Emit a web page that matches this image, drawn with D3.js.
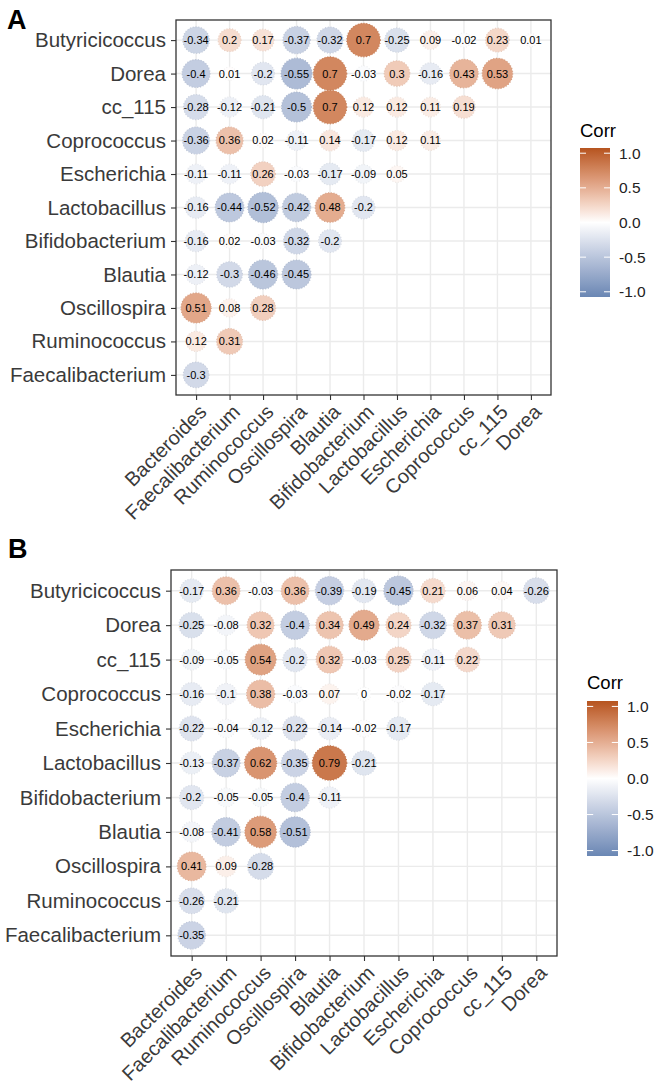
<!DOCTYPE html>
<html>
<head>
<meta charset="utf-8">
<script src="https://cdn.jsdelivr.net/npm/d3@7"></script>
<style>
  html, body { margin: 0; padding: 0; background: #ffffff; }
  svg { display: block; font-family: "Liberation Sans", Arial, sans-serif; }
</style>
</head>
<body>
<svg id="chart" width="657" height="1092"></svg>
<script>
// ---------------- DATA ----------------
const xCategories = ["Bacteroides","Faecalibacterium","Ruminococcus","Oscillospira","Blautia",
  "Bifidobacterium","Lactobacillus","Escherichia","Coprococcus","cc_115","Dorea"];
// rows from top to bottom
const yCategories = ["Butyricicoccus","Dorea","cc_115","Coprococcus","Escherichia","Lactobacillus",
  "Bifidobacterium","Blautia","Oscillospira","Ruminococcus","Faecalibacterium"];

// Panel A: each row lists its correlations with xCategories, left to right
const corrA = [
  [-0.34, 0.2, 0.17, -0.37, -0.32, 0.7, -0.25, 0.09, -0.02, 0.23, 0.01],
  [-0.4, 0.01, -0.2, -0.55, 0.7, -0.03, 0.3, -0.16, 0.43, 0.53],
  [-0.28, -0.12, -0.21, -0.5, 0.7, 0.12, 0.12, 0.11, 0.19],
  [-0.36, 0.36, 0.02, -0.11, 0.14, -0.17, 0.12, 0.11],
  [-0.11, -0.11, 0.26, -0.03, -0.17, -0.09, 0.05],
  [-0.16, -0.44, -0.52, -0.42, 0.48, -0.2],
  [-0.16, 0.02, -0.03, -0.32, -0.2],
  [-0.12, -0.3, -0.46, -0.45],
  [0.51, 0.08, 0.28],
  [0.12, 0.31],
  [-0.3]
];
// Panel B
const corrB = [
  [-0.17, 0.36, -0.03, 0.36, -0.39, -0.19, -0.45, 0.21, 0.06, 0.04, -0.26],
  [-0.25, -0.08, 0.32, -0.4, 0.34, 0.49, 0.24, -0.32, 0.37, 0.31],
  [-0.09, -0.05, 0.54, -0.2, 0.32, -0.03, 0.25, -0.11, 0.22],
  [-0.16, -0.1, 0.38, -0.03, 0.07, 0, -0.02, -0.17],
  [-0.22, -0.04, -0.12, -0.22, -0.14, -0.02, -0.17],
  [-0.13, -0.37, 0.62, -0.35, 0.79, -0.21],
  [-0.2, -0.05, -0.05, -0.4, -0.11],
  [-0.08, -0.41, 0.58, -0.51],
  [0.41, 0.09, -0.28],
  [-0.26, -0.21],
  [-0.35]
];
const legendTicks = [-1, -0.5, 0, 0.5, 1];
const legendTitle = "Corr";
const panelLabels = ["A", "B"];

// ---------------- STYLE ----------------
const lowColor = "#6A87B4", midColor = "#FFFFFF", highColor = "#B6541F";
const color = d3.scaleLinear().domain([-1, 0, 1]).range([lowColor, midColor, highColor])
  .interpolate(d3.interpolateLab);

const svg = d3.select("#chart");

function drawPanel(cfg) {
  const { data, x0, y0, size, tag, legend } = cfg;
  const g = svg.append("g");
  const x = d3.scalePoint().domain(xCategories).range([x0, x0 + size]).padding(0.6);
  const y = d3.scalePoint().domain(yCategories).range([y0, y0 + size]).padding(0.6);
  const step = x.step();

  // gridlines
  g.append("g").selectAll("line.v").data(xCategories).join("line")
    .attr("x1", d => x(d)).attr("x2", d => x(d)).attr("y1", y0).attr("y2", y0 + size)
    .attr("stroke", "#EBEBEB").attr("stroke-width", 1.4);
  g.append("g").selectAll("line.h").data(yCategories).join("line")
    .attr("y1", d => y(d)).attr("y2", d => y(d)).attr("x1", x0).attr("x2", x0 + size)
    .attr("stroke", "#EBEBEB").attr("stroke-width", 1.4);

  // cells
  const cells = [];
  data.forEach((row, i) => row.forEach((v, j) => cells.push({ r: yCategories[i], c: xCategories[j], v })));
  const absVals = cells.map(d => Math.abs(d.v));
  const aMin = d3.min(absVals), aMax = d3.max(absVals);
  const sizeScale = d3.scaleSqrt().domain([aMin, aMax]).range([0, 1]);
  const rad = d => step * (4 + 6 * sizeScale(Math.abs(d.v))) / 10 * 0.5;

  g.append("g").selectAll("circle").data(cells).join("circle")
    .attr("cx", d => x(d.c)).attr("cy", d => y(d.r)).attr("r", rad)
    .attr("fill", d => color(d.v))
    .attr("stroke", d => d3.color(color(d.v)).darker(0.15))
    .attr("stroke-width", 1.2)
    .attr("stroke-dasharray", "1 1.8");

  g.append("g").selectAll("text").data(cells).join("text")
    .attr("x", d => x(d.c)).attr("y", d => y(d.r)).attr("dy", "0.36em")
    .attr("text-anchor", "middle").attr("font-size", 11).attr("fill", "#000")
    .text(d => String(d.v));

  // border
  g.append("rect").attr("x", x0).attr("y", y0).attr("width", size).attr("height", size)
    .attr("fill", "none").attr("stroke", "#333").attr("stroke-width", 1.3);

  // axes
  const ay = g.append("g").attr("transform", `translate(${x0},0)`)
    .call(d3.axisLeft(y).tickSize(5).tickPadding(5));
  ay.select(".domain").remove();
  ay.selectAll(".tick line").attr("stroke", "#333").attr("stroke-width", 1.1);
  ay.selectAll(".tick text").attr("font-size", 20.5).attr("fill", "#3a3a3a")
    .attr("font-family", "Liberation Sans, Arial, sans-serif");

  const ax = g.append("g").attr("transform", `translate(0,${y0 + size})`)
    .call(d3.axisBottom(x).tickSize(5).tickPadding(0));
  ax.select(".domain").remove();
  ax.selectAll(".tick line").attr("stroke", "#333").attr("stroke-width", 1.1);
  ax.selectAll(".tick text").attr("font-size", 20).attr("fill", "#3a3a3a")
    .attr("font-family", "Liberation Sans, Arial, sans-serif")
    .attr("text-anchor", "end").attr("x", 0).attr("y", 0).attr("dy", "0.72em")
    .attr("transform", "translate(1,8) rotate(-45)");

  // panel tag
  svg.append("text").attr("x", tag.x).attr("y", tag.y).attr("font-size", 27)
    .attr("font-weight", "bold").attr("fill", "#000").text(tag.text);

  // legend
  const gradId = "grad" + tag.text;
  const grad = svg.append("defs").append("linearGradient").attr("id", gradId)
    .attr("x1", 0).attr("y1", 1).attr("x2", 0).attr("y2", 0);
  d3.range(0, 1.0001, 0.05).forEach(t => {
    grad.append("stop").attr("offset", t).attr("stop-color", color(-1 + 2 * t));
  });
  const lg = svg.append("g");
  lg.append("text").attr("x", legend.x).attr("y", legend.titleY).attr("font-size", 18.5)
    .attr("fill", "#000").text(legendTitle);
  lg.append("rect").attr("x", legend.x).attr("y", legend.top).attr("width", legend.w)
    .attr("height", legend.bottom - legend.top).attr("fill", `url(#${gradId})`);
  const inset = (legend.bottom - legend.top) * 0.035;
  const ls = d3.scaleLinear().domain([-1, 1]).range([legend.bottom - inset, legend.top + inset]);
  lg.selectAll("line.tl").data(legendTicks).join("line")
    .attr("x1", legend.x).attr("x2", legend.x + legend.w * 0.2)
    .attr("y1", d => ls(d)).attr("y2", d => ls(d)).attr("stroke", "#fff").attr("stroke-width", 1);
  lg.selectAll("line.tr").data(legendTicks).join("line")
    .attr("x1", legend.x + legend.w * 0.8).attr("x2", legend.x + legend.w)
    .attr("y1", d => ls(d)).attr("y2", d => ls(d)).attr("stroke", "#fff").attr("stroke-width", 1);
  lg.selectAll("text.lab").data(legendTicks).join("text").attr("class", "lab")
    .attr("x", legend.x + legend.w + 9).attr("y", d => ls(d)).attr("dy", "0.36em")
    .attr("font-size", 15.5).attr("fill", "#222").text(d => d.toFixed(1));
}

drawPanel({ data: corrA, x0: 176, y0: 20, size: 375,
  tag: { text: panelLabels[0], x: 7, y: 29 },
  legend: { x: 580, w: 30, titleY: 137, top: 148, bottom: 297 } });
drawPanel({ data: corrB, x0: 171, y0: 570, size: 386,
  tag: { text: panelLabels[1], x: 8, y: 558 },
  legend: { x: 587, w: 31, titleY: 689, top: 701, bottom: 856 } });
</script>
</body>
</html>
